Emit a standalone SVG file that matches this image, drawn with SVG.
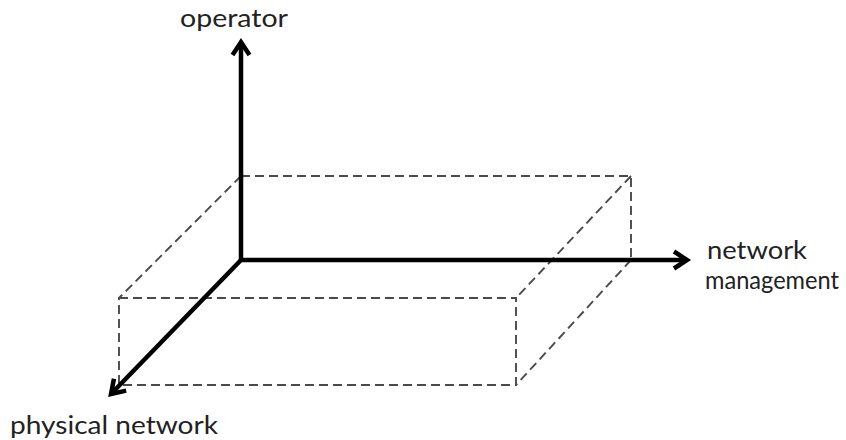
<svg xmlns="http://www.w3.org/2000/svg" width="846" height="440" viewBox="0 0 846 440">
<style>
.dash{fill:none;stroke:#4a4a4a;stroke-width:1.9;stroke-dasharray:9,5}
.axis{fill:none;stroke:#000;stroke-width:4.5;stroke-linecap:butt}
.lbl{font-family:Lato,"Open Sans","Liberation Sans",sans-serif;font-size:25px;fill:#222}
</style>
<defs>
<marker id="ah" viewBox="0 0 22 22" refX="17" refY="11" markerWidth="22" markerHeight="22" markerUnits="userSpaceOnUse" orient="auto">
<path d="M4,2.5 L17,11 L4,19.5" fill="none" stroke="#000" stroke-width="4.5" stroke-linejoin="miter"/>
</marker>
</defs>
<rect width="846" height="440" fill="#fff"/>
<g id="box">
<path class="dash" d="M241,176 H631 V260"/>
<path class="dash" d="M241,176 L119,298"/>
<path class="dash" d="M631,176 L516,298"/>
<path class="dash" d="M631,260 L516,385"/>
<rect class="dash" x="119" y="298" width="397" height="87"/>
</g>
<g id="connectors">
<line class="axis" x1="241" y1="262" x2="241" y2="42" marker-end="url(#ah)"/>
<line class="axis" x1="239" y1="260" x2="687" y2="260" marker-end="url(#ah)"/>
<line class="axis" x1="242" y1="259" x2="111" y2="394" marker-end="url(#ah)"/>
</g>
<g id="operator"><text class="lbl" x="180" y="27" textLength="108" lengthAdjust="spacingAndGlyphs">operator</text></g>
<g id="network-management">
<text class="lbl" x="707" y="259" textLength="100" lengthAdjust="spacingAndGlyphs">network</text>
<text class="lbl" x="705" y="289" textLength="134" lengthAdjust="spacingAndGlyphs">management</text>
</g>
<g id="physical-network"><text class="lbl" x="10" y="434" textLength="208" lengthAdjust="spacingAndGlyphs">physical network</text></g>
</svg>
